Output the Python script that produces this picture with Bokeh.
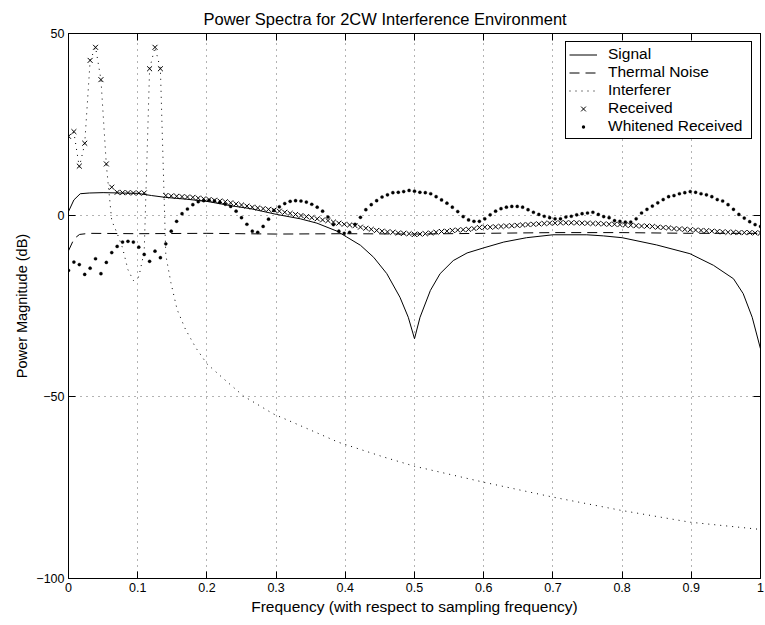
import numpy as np
from bokeh.plotting import figure
from bokeh.models import (LinearAxis, Range1d, FixedTicker, Legend, LegendItem)
from bokeh.embed import file_html
from bokeh.resources import INLINE

# ---------------- data ----------------
n_bins = 128
freq = [k / n_bins for k in range(n_bins + 1)]

received_db = [
    21.7, 23.0, 13.5, 19.8, 42.6, 46.2, 37.3, 14.1, 7.7, 6.3,
    6.2, 6.2, 6.1, 6.1, 6.1, 40.3, 46.2, 40.3, 5.4, 5.3,
    5.2, 5.1, 5.0, 4.9, 4.7, 4.5, 4.3, 4.1, 3.9, 3.7,
    3.4, 3.1, 2.8, 2.5, 2.2, 2.0, 1.8, 1.6, 1.4, 1.1,
    0.8, 0.5, 0.2, -0.1, -0.4, -0.7, -1.0, -1.3, -1.5, -1.9,
    -2.2, -2.5, -2.7, -2.9, -3.3, -3.6, -3.9, -4.2, -4.4, -4.6,
    -4.7, -4.9, -5.0, -5.1, -5.3, -5.2, -5.1, -4.9, -4.7, -4.5,
    -4.4, -4.2, -4.1, -4.0, -3.9, -3.7, -3.4, -3.3, -3.3, -3.2,
    -3.1, -3.0, -2.9, -2.8, -2.7, -2.6, -2.5, -2.4, -2.3, -2.2,
    -2.2, -2.1, -2.1, -2.1, -2.1, -2.2, -2.2, -2.3, -2.3, -2.4,
    -2.5, -2.5, -2.6, -2.7, -2.8, -2.9, -3.0, -3.0, -3.1, -3.3,
    -3.4, -3.5, -3.7, -3.8, -3.9, -4.0, -4.1, -4.2, -4.3, -4.4,
    -4.5, -4.6, -4.7, -4.7, -4.8, -4.8, -4.8, -4.9, -4.9,
]

whitened_db = [
    -15.2, -12.9, -13.6, -16.3, -14.6, -12.0, -16.1, -13.0, -10.3, -8.6,
    -7.4, -7.2, -7.4, -8.8, -10.8, -12.7, -9.9, -11.7, -7.9, -4.4,
    -1.7, 0.4, 1.7, 2.9, 3.7, 4.0, 4.1, 3.9, 3.5, 3.0,
    2.4, 1.1, -0.7, -2.5, -4.4, -4.7, -3.1, -1.1, 1.3, 2.3,
    3.2, 3.8, 4.0, 3.9, 3.6, 3.0, 2.2, 1.1, -0.5, -2.6,
    -4.4, -5.0, -4.7, -2.5, -0.6, 1.5, 2.9, 4.0, 5.0, 5.6,
    6.2, 6.3, 6.5, 6.8, 6.6, 6.3, 6.2, 5.9, 5.1, 4.2,
    3.3, 2.2, 1.0, -0.4, -1.3, -1.7, -1.7, -1.0, 0.1, 1.1,
    1.8, 2.2, 2.4, 2.4, 2.2, 1.5, 0.8, 0.2, -0.3, -0.7,
    -1.0, -1.0, -0.5, -0.3, 0.1, 0.4, 0.6, 0.8, 0.2, -0.4,
    -0.7, -1.5, -1.7, -1.9, -1.9, -1.0, 0.6, 1.6, 2.5, 3.4,
    4.3, 5.1, 5.4, 5.9, 6.2, 6.5, 6.3, 5.9, 5.6, 5.1,
    4.3, 3.9, 2.9, 1.6, 0.2, -0.8, -1.8, -2.6, -3.1,
]

signal_f = [0.0, 0.0078, 0.017, 0.03, 0.05, 0.1, 0.12, 0.14, 0.17, 0.2,
            0.238, 0.263, 0.301, 0.335, 0.359, 0.388, 0.402, 0.422, 0.441, 0.46,
            0.479, 0.491, 0.5, 0.508, 0.523, 0.537, 0.556, 0.576, 0.6, 0.629,
            0.662, 0.7, 0.749, 0.773, 0.8, 0.85, 0.898, 0.932, 0.961, 0.975,
            0.988, 1.0]
signal_db = [1.0, 4.2, 5.9, 6.1, 6.2, 6.0, 5.4, 4.9, 4.4, 3.8,
             2.5, 1.8, 0.2, -1.0, -2.2, -4.4, -6.0, -8.3, -11.6, -16.1,
             -22.6, -28.1, -34.0, -28.1, -20.7, -16.1, -12.5, -10.4, -9.0, -7.4,
             -6.2, -5.4, -5.4, -5.7, -6.2, -8.2, -10.6, -13.8, -17.5, -21.6,
             -28.1, -36.8]

noise_f = [0.0, 0.008, 0.016, 0.03, 0.1, 0.2, 0.3, 0.4, 0.5, 0.6, 0.7, 0.8, 0.9, 1.0]
noise_db = [-9.8, -6.5, -5.3, -5.0, -5.1, -5.0, -5.2, -5.1, -5.2, -5.0, -4.8, -4.8, -5.0, -5.0]

interf_f = [0.0, 0.0078, 0.0156, 0.0234, 0.0313, 0.0391, 0.0469, 0.0547, 0.0625, 0.0703,
            0.0781, 0.0859, 0.0938, 0.1016, 0.1094, 0.1172, 0.125, 0.1328, 0.1406, 0.148,
            0.157, 0.169, 0.184, 0.2, 0.224, 0.253, 0.296, 0.354, 0.39, 0.456,
            0.5, 0.6, 0.7, 0.8, 0.898, 0.99, 1.0]
interf_db = [21.5, 22.8, 13.2, 19.6, 42.6, 46.2, 37.3, 13.8, -1.5, -5.0,
             -9.0, -15.0, -18.0, -17.0, -10.0, 40.3, 46.2, 40.3, -11.0, -18.6,
             -26.0, -31.4, -36.5, -40.9, -45.0, -49.8, -54.7, -59.5, -62.5, -66.6,
             -69.1, -73.5, -77.6, -81.3, -84.5, -86.3, -86.5]

x_ticks = [0.0, 0.1, 0.2, 0.3, 0.4, 0.5, 0.6, 0.7, 0.8, 0.9, 1.0]
x_tick_labels = ["0", "0.1", "0.2", "0.3", "0.4", "0.5", "0.6", "0.7", "0.8", "0.9", "1"]
y_ticks = [-100, -50, 0, 50]
y_tick_labels = ["\u2212100", "\u221250", "0", "50"]

title_text = "Power Spectra for 2CW Interference Environment"
x_label = "Frequency (with respect to sampling frequency)"
y_label = "Power Magnitude (dB)"
series_names = ["Signal", "Thermal Noise", "Interferer", "Received", "Whitened Received"]

# ---------------- figure ----------------
FONT = "Liberation Sans"

p = figure(width=765, height=625, x_range=Range1d(0, 1), y_range=Range1d(-100, 50),
           output_backend="svg", toolbar_location=None,
           min_border_left=68, min_border_right=5, min_border_top=33, min_border_bottom=47)
p.background_fill_color = "white"
p.border_fill_color = "white"
p.outline_line_color = "black"
p.outline_line_width = 1

p.title.text = title_text
p.title.align = "left"
p.title.offset = 135
p.title.text_font = FONT
p.title.text_font_size = "16.5px"
p.title.text_font_style = "normal"
p.title.text_color = "black"
p.title.standoff = 12

xt = FixedTicker(ticks=x_ticks, minor_ticks=[])
yt = FixedTicker(ticks=y_ticks, minor_ticks=[])

for ax in p.xaxis:
    ax.ticker = xt
    ax.major_label_overrides = {t: l for t, l in zip(x_ticks, x_tick_labels)}
    ax.axis_label = x_label
for ax in p.yaxis:
    ax.ticker = yt
    ax.major_label_overrides = {t: l for t, l in zip(y_ticks, y_tick_labels)}
    ax.axis_label = y_label

for ax in list(p.xaxis) + list(p.yaxis):
    ax.major_tick_in = 7
    ax.major_tick_out = 0
    ax.minor_tick_in = 0
    ax.minor_tick_out = 0
    ax.axis_line_color = "black"
    ax.major_tick_line_color = "black"
    ax.major_label_text_font = FONT
    ax.major_label_text_font_size = "12.5px"
    ax.major_label_text_color = "black"
    ax.axis_label_text_font = FONT
    ax.axis_label_text_font_size = "15.5px"
    ax.axis_label_text_font_style = "normal"
    ax.axis_label_text_color = "black"
    ax.major_label_standoff = 4
    ax.axis_label_standoff = 3
p.yaxis[0].axis_label_text_font_size = "14.5px"

# box ticks on top and right (no labels)
top_ax = LinearAxis(ticker=xt, major_tick_in=7, major_tick_out=0, minor_tick_in=0, minor_tick_out=0,
                    major_label_overrides={t: "" for t in x_ticks}, major_label_standoff=0,
                    axis_line_color="black", major_tick_line_color="black")
right_ax = LinearAxis(ticker=yt, major_tick_in=7, major_tick_out=0, minor_tick_in=0, minor_tick_out=0,
                      major_label_overrides={t: "" for t in y_ticks}, major_label_standoff=0,
                      axis_line_color="black", major_tick_line_color="black")
p.add_layout(top_ax, "above")
p.add_layout(right_ax, "right")

p.xgrid.ticker = xt
p.ygrid.ticker = yt
for g in (p.xgrid, p.ygrid):
    g.grid_line_color = "black"
    g.grid_line_alpha = 0.6
    g.grid_line_dash = "1 5"
    g.grid_line_width = 1

# ---------------- series ----------------
r_sig = p.line(signal_f, signal_db, line_color="black", line_width=1)
r_noise = p.line(noise_f, noise_db, line_color="black", line_width=1, line_dash="10 6")
r_int = p.line(interf_f, interf_db, line_color="black", line_width=1, line_dash="1 5")
r_rx = p.scatter(freq, received_db, marker="x", size=7, line_color="black", line_width=1)
r_wh = p.scatter(freq, whitened_db, marker="circle", size=3.2, fill_color="black",
                 line_color="black", line_width=0.3)
# legend-only proxy (a point that is not drawn): black disc trimmed by a white rim
r_wh_leg = p.scatter(np.array([np.nan]), np.array([np.nan]), marker="circle",
                     fill_color="black", line_color="white", line_width=3.4)

legend = Legend(items=[LegendItem(label=n, renderers=[r]) for n, r in
                       zip(series_names, [r_sig, r_noise, r_int, r_rx, r_wh_leg])],
                location="top_right")
legend.border_line_color = "black"
legend.border_line_width = 1
legend.border_line_alpha = 1
legend.background_fill_color = "white"
legend.background_fill_alpha = 1
legend.label_text_font = FONT
legend.label_text_font_size = "15.5px"
legend.label_text_color = "black"
legend.glyph_width = 28
legend.glyph_height = 17
legend.label_height = 17
legend.label_width = 140
legend.spacing = 0
legend.padding = 3
legend.margin = 8
legend.label_standoff = 11
p.add_layout(legend)

open("out.html", "w").write(file_html(p, INLINE))
